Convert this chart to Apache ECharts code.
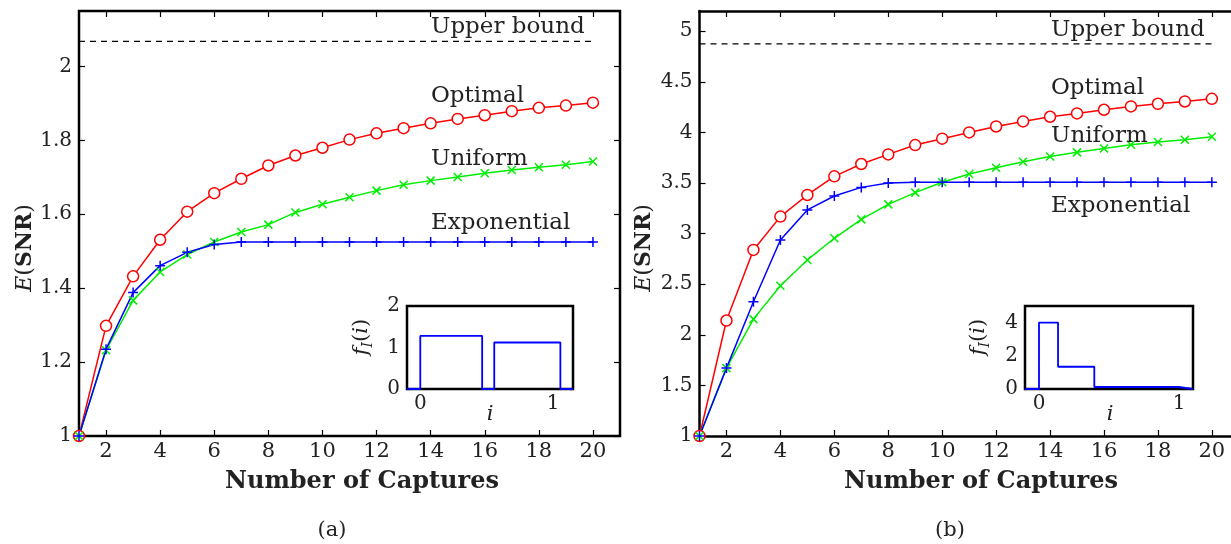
<!DOCTYPE html>
<html>
<head>
<meta charset="utf-8">
<script src="https://cdn.jsdelivr.net/npm/echarts@6/dist/echarts.min.js"></script>
<style>
html,body{margin:0;padding:0;background:#fff;}
#chart{width:1231px;height:544px;}
</style>
</head>
<body>
<div id="chart"></div>
<script>
// ---------- data ----------
var captures = [1,2,3,4,5,6,7,8,9,10,11,12,13,14,15,16,17,18,19,20];
var xTickValues = [2,4,6,8,10,12,14,16,18,20];

var leftYTicks = [1,1.2,1.4,1.6,1.8,2];
var leftUpperBound = 2.068;
var leftOptimal = [1.0,1.298,1.432,1.531,1.607,1.657,1.696,1.732,1.759,1.780,1.802,1.819,1.833,1.846,1.858,1.868,1.879,1.888,1.894,1.902];
var leftUniform = [1.0,1.232,1.367,1.444,1.491,1.525,1.552,1.572,1.605,1.627,1.646,1.664,1.680,1.691,1.701,1.711,1.720,1.727,1.734,1.743];
var leftExponential = [1.0,1.235,1.388,1.461,1.497,1.518,1.525,1.525,1.525,1.525,1.525,1.525,1.525,1.525,1.525,1.525,1.525,1.525,1.525,1.525];

var rightYTicks = [1,1.5,2,2.5,3,3.5,4,4.5,5];
var rightUpperBound = 4.875;
var rightOptimal = [1.0,2.141,2.839,3.168,3.382,3.566,3.688,3.783,3.875,3.938,4.0,4.059,4.109,4.155,4.188,4.224,4.257,4.283,4.306,4.332];
var rightUniform = [1.0,1.671,2.155,2.484,2.740,2.954,3.141,3.289,3.405,3.507,3.589,3.651,3.711,3.763,3.803,3.842,3.878,3.905,3.928,3.957];
var rightExponential = [1.0,1.671,2.326,2.937,3.234,3.372,3.457,3.500,3.507,3.507,3.507,3.507,3.507,3.507,3.507,3.507,3.507,3.507,3.507,3.507];

// inset pdfs f_I(i): piecewise constant, value holds from edge to next edge
var insetXTicks = [0,1];
var insetLeftYTicks = [0,1,2];
var insetLeftEdges = [-0.1,0,0.466,0.557,1.055,1.15];
var insetLeftValues = [0,1.28,0,1.12,0,0];
var insetRightYTicks = [0,2,4];
var insetRightEdges = [-0.1,0,0.136,0.395,0.998,1.1];
var insetRightValues = [0,4,1.34,0.12,0,0];

// ---------- helpers ----------
var FONT = 'DejaVu Serif';
function zip(xs, ys){ return xs.map(function(x,i){ return [x, ys[i]]; }); }

var RED = '#ff0000', GREEN = '#00ee00', BLUE = '#0000ff';
var PLUS = 'path://M5,0L5,10M0,5L10,5';
var CROSS = 'path://M0,0L10,10M10,0L0,10';

function tickCfg(vals, len){
  return {show:true, inside:true, length:len, customValues:vals, lineStyle:{color:'#000', width:1.2}};
}
function axLine(show){ return {show:!!show, onZero:false, lineStyle:{color:'#000', width:2.5}}; }
function xAx(grid, pos, min, max, vals, labels, fs, len, line){
  return {type:'value', gridIndex:grid, position:pos, min:min, max:max,
    axisLine:axLine(line), splitLine:{show:false},
    axisTick:tickCfg(vals, len),
    axisLabel:labels ? {show:true, customValues:vals, fontFamily:FONT, fontSize:fs, color:'#222', margin:5} : {show:false}};
}
function yAx(grid, pos, min, max, vals, labels, fs, len, line, noTicks){
  var t = tickCfg(vals, len); if (noTicks) t.show = false;
  return {type:'value', gridIndex:grid, position:pos, min:min, max:max,
    axisLine:axLine(line), splitLine:{show:false},
    axisTick:t,
    axisLabel:labels ? {show:true, customValues:vals, fontFamily:FONT, fontSize:fs, color:'#222', margin:7} : {show:false}};
}
function curve(name, xi, yi, xs, ys, color, symbol, size, fill){
  return {type:'line', name:name, xAxisIndex:xi, yAxisIndex:yi, data:zip(xs, ys),
    symbol:symbol, symbolSize:size, showSymbol:true,
    lineStyle:{color:color, width:1.5},
    itemStyle:{color:fill, borderColor:color, borderWidth:1.5},
    emphasis:{disabled:true}, z:3};
}
function bound(xi, yi, v){
  return {type:'line', xAxisIndex:xi, yAxisIndex:yi, data:[[1,v],[20,v]], symbol:'none',
    lineStyle:{color:'#000', width:1.3, type:[6,5]}, emphasis:{disabled:true}, z:2};
}
function label(text, x, y){
  return {type:'text', x:x, y:y, z:100, style:{text:text, fontFamily:FONT, fontSize:23, fill:'#222', textAlign:'left', textVerticalAlign:'middle'}};
}
function ytitle(x, y){
  return {type:'text', x:x, y:y, rotation:Math.PI/2, z:100, style:{
    text:'{e|E}{n|(}{b|SNR}{n|)}', textAlign:'center', textVerticalAlign:'middle', fill:'#222',
    rich:{
      e:{fontFamily:FONT, fontStyle:'italic', fontSize:22, fill:'#222'},
      n:{fontFamily:FONT, fontSize:22, fill:'#222'},
      b:{fontFamily:FONT, fontWeight:'bold', fontSize:22, fill:'#222'}
    }}};
}
function ftitle(x, y){
  return {type:'text', x:x, y:y, rotation:Math.PI/2, z:100, style:{
    text:'{f|f}{s|I}{n|(}{f|i}{n|)}', textAlign:'center', textVerticalAlign:'middle', fill:'#222',
    rich:{
      f:{fontFamily:FONT, fontStyle:'italic', fontSize:21, fill:'#222', lineHeight:26},
      s:{fontFamily:FONT, fontStyle:'italic', fontSize:14, fill:'#222', verticalAlign:'bottom', lineHeight:26},
      n:{fontFamily:FONT, fontSize:21, fill:'#222', lineHeight:26}
    }}};
}
function ctext(text, x, y, opts){
  var st = {text:text, fontFamily:FONT, fontSize:21, fill:'#222', textAlign:'center', textVerticalAlign:'middle'};
  for (var k in opts) st[k] = opts[k];
  return {type:'text', x:x, y:y, z:100, style:st};
}

var chart = echarts.init(document.getElementById('chart'), null, {renderer:'canvas'});
var gridStyle = {show:true, borderColor:'#000', borderWidth:2.5, backgroundColor:'#fff', containLabel:false};

var option = {
  animation:false,
  backgroundColor:'#fff',
  grid:[
    Object.assign({left:79, top:11, width:541, height:425}, gridStyle),
    {left:699.5, top:11, width:531.5, height:425, show:false, containLabel:false},
    Object.assign({left:407, top:306, width:166, height:83, z:10}, gridStyle),
    Object.assign({left:1025, top:306, width:168, height:83, z:10}, gridStyle)
  ],
  xAxis:[
    xAx(0,'bottom',1,21,xTickValues,true,21,6,false),
    xAx(0,'top',1,21,xTickValues,false,21,6,false),
    xAx(1,'bottom',1,20.71,xTickValues,true,21,6,true),
    xAx(1,'top',1,20.71,xTickValues,false,21,6,true),
    xAx(2,'bottom',-0.1,1.15,insetXTicks,true,20,3,false),
    xAx(2,'top',-0.1,1.15,insetXTicks,false,20,3,false),
    xAx(3,'bottom',-0.1,1.1,insetXTicks,true,20,3,false),
    xAx(3,'top',-0.1,1.1,insetXTicks,false,20,3,false)
  ],
  yAxis:[
    yAx(0,'left',1,2.15,leftYTicks,true,20,6,false),
    yAx(0,'right',1,2.15,leftYTicks,false,20,6,false),
    yAx(1,'left',1,5.2,rightYTicks,true,20,6,true),
    yAx(1,'right',1,5.2,rightYTicks,false,20,6,false,true),
    yAx(2,'left',0,2,insetLeftYTicks,true,20,3,false),
    yAx(2,'right',0,2,insetLeftYTicks,false,20,3,false),
    yAx(3,'left',0,5,insetRightYTicks,true,20,3,false),
    yAx(3,'right',0,5,insetRightYTicks,false,20,3,false)
  ],
  series:[
    bound(0,0,leftUpperBound),
    curve('Optimal',0,0,captures,leftOptimal,RED,'circle',11,'#fff'),
    curve('Uniform',0,0,captures,leftUniform,GREEN,CROSS,8,'none'),
    curve('Exponential',0,0,captures,leftExponential,BLUE,PLUS,10,'none'),
    bound(2,2,rightUpperBound),
    curve('Optimal',2,2,captures,rightOptimal,RED,'circle',11,'#fff'),
    curve('Uniform',2,2,captures,rightUniform,GREEN,CROSS,8,'none'),
    curve('Exponential',2,2,captures,rightExponential,BLUE,PLUS,10,'none'),
    {type:'line', xAxisIndex:4, yAxisIndex:4, data:zip(insetLeftEdges, insetLeftValues), step:'end', symbol:'none',
      lineStyle:{color:BLUE, width:1.8}, emphasis:{disabled:true}, z:20},
    {type:'line', xAxisIndex:6, yAxisIndex:6, data:zip(insetRightEdges, insetRightValues), step:'end', symbol:'none',
      lineStyle:{color:BLUE, width:1.8}, emphasis:{disabled:true}, z:20}
  ],
  graphic:[
    label('Upper bound',431,27),
    label('Optimal',431,96),
    label('Uniform',431,159),
    label('Exponential',431,223),
    label('Upper bound',1051,30),
    label('Optimal',1051,88),
    label('Uniform',1051,136),
    label('Exponential',1051,206),
    ytitle(25,248),
    ytitle(644,248),
    ftitle(362,337),
    ftitle(979,337),
    ctext('i',490,415,{fontStyle:'italic'}),
    ctext('i',1110,415,{fontStyle:'italic'}),
    ctext('Number of Captures',362,482,{fontWeight:'bold',fontSize:24}),
    ctext('Number of Captures',981,482,{fontWeight:'bold',fontSize:24}),
    ctext('(a)',332,531,{}),
    ctext('(b)',950,531,{})
  ]
};
chart.setOption(option);
</script>
</body>
</html>
